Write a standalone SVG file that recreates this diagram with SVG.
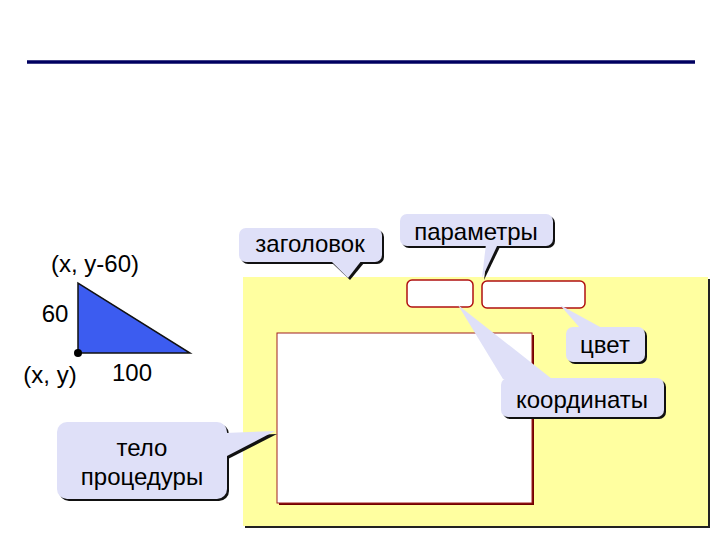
<svg xmlns="http://www.w3.org/2000/svg" width="720" height="540" viewBox="0 0 720 540">
<style>
.t{font-family:"Liberation Sans",Arial,sans-serif;font-size:24px;fill:#000;text-anchor:middle}
.call{fill:#dfe0f8}
.sh{fill:#111}
.slot{fill:#fff;stroke:#b01010;stroke-width:1.5}
</style>
<rect width="720" height="540" fill="#fff"/>
<line x1="27" y1="62" x2="695" y2="62" stroke="#000060" stroke-width="3.5"/>

<g id="triangle">
<polygon points="78,283 78,353 190,353" fill="#3c5cf0" stroke="#111" stroke-width="1.5"/>
<circle cx="78" cy="353" r="4" fill="#000"/>
<text class="t" x="95" y="272">(x, y-60)</text>
<text class="t" x="55" y="322">60</text>
<text class="t" x="50" y="383">(x, y)</text>
<text class="t" x="132" y="381">100</text>
</g>

<g id="panel">
<rect x="245" y="279" width="465" height="249" fill="#222"/>
<rect x="243" y="277" width="465" height="249" fill="#ffffa0"/>
</g>

<g id="slot-coords">
<rect x="407" y="280" width="66" height="27" rx="5" class="slot"/>
</g>
<g id="slot-color">
<rect x="482" y="281" width="103" height="27" rx="5" class="slot"/>
</g>
<g id="body">
<rect x="279" y="335" width="255" height="170" fill="#700000"/>
<rect x="277" y="333" width="255" height="170" fill="#fff" stroke="#a02020" stroke-width="1"/>
</g>

<g id="connectors">
<g id="zagolovok">
<g class="sh" transform="translate(2,2)"><rect x="239" y="228" width="143" height="34" rx="7"/><polygon points="330,261 362,261 348,278"/></g>
<g class="call"><rect x="239" y="228" width="143" height="34" rx="7"/><polygon points="330,260 362,260 348,278"/></g>
<text class="t" x="310" y="252">заголовок</text>
</g>
<g id="parametry">
<g class="sh" transform="translate(2,2)"><rect x="400" y="214" width="153" height="32" rx="7"/><polygon points="486,245 498,245 482,278"/></g>
<g class="call"><rect x="400" y="214" width="153" height="32" rx="7"/><polygon points="486,244 498,244 482,278"/></g>
<text class="t" x="476" y="240">параметры</text>
</g>
<g id="cvet">
<g class="sh" transform="translate(2,2)"><rect x="566" y="327" width="79" height="35" rx="7"/></g>
<g class="call"><rect x="566" y="327" width="79" height="35" rx="7"/><polygon points="560,305 580,328 602,328"/></g>
<text class="t" x="605" y="353">цвет</text>
</g>
<g id="koordinaty">
<g class="sh" transform="translate(2,2)"><rect x="501" y="378" width="163" height="39" rx="7"/></g>
<g class="call"><rect x="501" y="378" width="163" height="39" rx="7"/><polygon points="458,305 503,379 552,379"/></g>
<text class="t" x="582" y="408">координаты</text>
</g>
<g id="telo">
<g class="sh" transform="translate(2,2)"><rect x="57" y="422" width="170" height="77" rx="10"/><polygon points="226,434 226,457 275,432"/></g>
<g class="call"><rect x="57" y="422" width="170" height="77" rx="10"/><polygon points="225,433 227,456 275,431"/></g>
<text class="t" x="142" y="456">тело</text>
<text class="t" x="142" y="485">процедуры</text>
</g>
</g>
</svg>
